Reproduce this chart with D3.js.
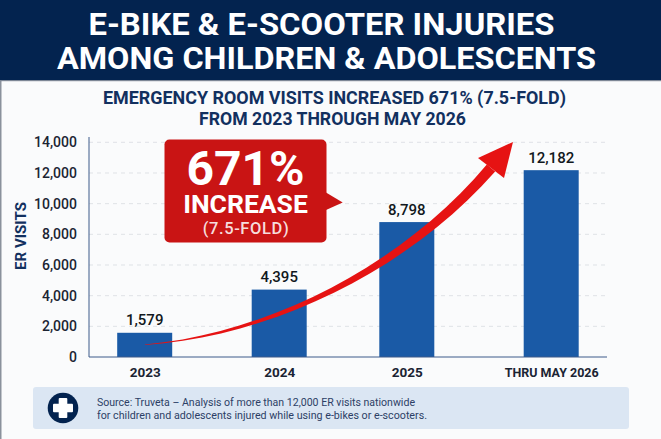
<!DOCTYPE html>
<html>
<head>
<meta charset="utf-8">
<script src="https://d3js.org/d3.v7.min.js"></script>
<style>
html,body{margin:0;padding:0;background:#fafbfc;}
svg{display:block;font-family:Roboto,"Liberation Sans",sans-serif;}
</style>
</head>
<body>
<script>
var categories = ["2023","2024","2025","THRU MAY 2026"];
var visits = [1579,4395,8798,12182];
var yTicks = [0,2000,4000,6000,8000,10000,12000,14000];
var titleLines = ["E-BIKE & E-SCOOTER INJURIES","AMONG CHILDREN & ADOLESCENTS"];
var subtitleLines = ["EMERGENCY ROOM VISITS INCREASED 671% (7.5-FOLD)","FROM 2023 THROUGH MAY 2026"];
var sourceLines = ["Source: Truveta – Analysis of more than 12,000 ER visits nationwide","for children and adolescents injured while using e-bikes or e-scooters."];

var navy = "#03234f", blue = "#1a5aa6", red = "#e61313";

var svg = d3.select("body").append("svg").attr("width",661).attr("height",439);

// page frame and header
svg.append("rect").attr("width",661).attr("height",439).attr("fill","#fafbfc");
svg.append("rect").attr("x",0).attr("y",0).attr("width",1.5).attr("height",439).attr("fill","#8a919c");
svg.append("rect").attr("width",661).attr("height",80).attr("fill",navy);
svg.append("rect").attr("y",80).attr("width",661).attr("height",1.2).attr("fill","#7d8796");

svg.selectAll("text.title").data(titleLines).enter().append("text")
	.attr("class","title")
	.attr("x",function(d,i){ return i==0 ? 88.5 : 57; })
	.attr("y",function(d,i){ return i==0 ? 35 : 68.5; })
	.attr("textLength",function(d,i){ return i==0 ? 466 : 539; })
	.attr("lengthAdjust","spacingAndGlyphs")
	.attr("font-size",31).attr("font-weight",700).attr("fill","#fff")
	.text(function(d){ return d; });

svg.selectAll("text.sub").data(subtitleLines).enter().append("text")
	.attr("class","sub")
	.attr("x",function(d,i){ return i==0 ? 103 : 199; })
	.attr("y",function(d,i){ return i==0 ? 104 : 125; })
	.attr("textLength",function(d,i){ return i==0 ? 463 : 267; })
	.attr("lengthAdjust","spacingAndGlyphs")
	.attr("font-size",17.5).attr("font-weight",700).attr("fill","#12305f")
	.text(function(d){ return d; });

// scales
var y = d3.scaleLinear().domain([0,14000]).range([357,142.3]);
var x = d3.scaleOrdinal().domain(categories).range([144.7,279.2,406.8,551.2]);
var barWidth = 55;

// grid
svg.append("g").selectAll("line").data(yTicks.slice(1)).enter().append("line")
	.attr("x1",89).attr("x2",607)
	.attr("y1",function(d){ return y(d); })
	.attr("y2",function(d){ return y(d); })
	.attr("stroke","#dfe2e6").attr("stroke-width",1).attr("stroke-dasharray","4 4");

// bars
svg.append("g").selectAll("rect").data(visits).enter().append("rect")
	.attr("x",function(d,i){ return x(categories[i])-barWidth/2; })
	.attr("y",function(d){ return y(d); })
	.attr("width",barWidth)
	.attr("height",function(d){ return y(0)-y(d); })
	.attr("fill",blue);

// axes
var yAxis = svg.append("g").attr("transform","translate(89,0)")
	.call(d3.axisLeft(y).tickValues(yTicks).tickFormat(d3.format(",")).tickSize(0).tickPadding(12));
yAxis.select(".domain").remove();
yAxis.selectAll("text").attr("font-size",14).attr("font-weight",500).attr("font-family","Roboto").attr("fill","#1b2433");

var xAxis = svg.append("g").attr("transform","translate(0,357)")
	.call(d3.axisBottom(x).tickSize(0).tickPadding(10));
xAxis.select(".domain").remove();
xAxis.selectAll("text").attr("font-size",13.5).attr("font-weight",700).attr("font-family","Roboto").attr("fill","#1b2433")
	.attr("textLength",function(d){ return d.length>4 ? 94 : null; })
	.attr("lengthAdjust","spacingAndGlyphs");

svg.append("line").attr("x1",89).attr("x2",89).attr("y1",137).attr("y2",357).attr("stroke","#3d5a8a").attr("stroke-width",1);
svg.append("line").attr("x1",89).attr("x2",607).attr("y1",357).attr("y2",357).attr("stroke","#3d5a8a").attr("stroke-width",1);

svg.append("text")
	.attr("transform","translate(26,236) rotate(-90)")
	.attr("text-anchor","middle")
	.attr("font-size",15).attr("font-weight",700).attr("fill","#12305f")
	.text("ER VISITS");

// value labels
svg.append("g").selectAll("text").data(visits).enter().append("text")
	.attr("x",function(d,i){ return x(categories[i]); })
	.attr("y",function(d){ return y(d)-7.5; })
	.attr("text-anchor","middle")
	.attr("font-size",15).attr("font-weight",500).attr("fill","#111820")
	.text(function(d){ return d3.format(",")(d); });

// growth arrow: ribbon that widens along a bezier
var p0 = [145,344.7], p1 = [270,335], p2 = [405,268], p3 = [491,168];
function bez(a,b,c,d,t){ var u = 1-t; return u*u*u*a+3*u*u*t*b+3*u*t*t*c+t*t*t*d; }
var upper = [], lower = [];
d3.range(0,21).forEach(function(k){
	var t = k/20, e = 0.01;
	var px = bez(p0[0],p1[0],p2[0],p3[0],t), py = bez(p0[1],p1[1],p2[1],p3[1],t);
	var dx = bez(p0[0],p1[0],p2[0],p3[0],t+e)-bez(p0[0],p1[0],p2[0],p3[0],t-e);
	var dy = bez(p0[1],p1[1],p2[1],p3[1],t+e)-bez(p0[1],p1[1],p2[1],p3[1],t-e);
	var l = Math.sqrt(dx*dx+dy*dy), w = (0.4+10.6*t)/2;
	upper.push([px+dy/l*w, py-dx/l*w]);
	lower.unshift([px-dy/l*w, py+dx/l*w]);
});
svg.append("path").attr("d",d3.line()(upper.concat(lower))+"Z").attr("fill",red);
svg.append("path").attr("d","M513,142L478,158L504,178Z").attr("fill",red);

// callout
svg.append("rect").attr("x",164.5).attr("y",139.5).attr("width",162).attr("height",103).attr("rx",5).attr("fill","#c91414");
svg.append("path").attr("d","M326,192.5L342.7,202.5L326,210Z").attr("fill","#c91414");
svg.append("text").attr("x",245.5).attr("y",185).attr("text-anchor","middle")
	.attr("font-size",48).attr("font-weight",700).attr("fill","#fff").text("671%");
svg.append("text").attr("x",245.5).attr("y",212.5).attr("text-anchor","middle")
	.attr("font-size",26.5).attr("font-weight",700).attr("fill","#fff").text("INCREASE");
svg.append("text").attr("x",246).attr("y",234).attr("text-anchor","middle")
	.attr("font-size",16.5).attr("font-weight",500).attr("letter-spacing",0.6).attr("fill","#f6dcdc").text("(7.5-FOLD)");

// source box
svg.append("rect").attr("x",33).attr("y",387).attr("width",596).attr("height",42).attr("rx",3).attr("fill","#dbe6f3");
svg.append("circle").attr("cx",63).attr("cy",408).attr("r",15.3).attr("fill",navy);
svg.append("rect").attr("x",58.7).attr("y",398).attr("width",8.6).attr("height",20).attr("rx",1).attr("fill","#fff");
svg.append("rect").attr("x",53).attr("y",403.7).attr("width",20).attr("height",8.6).attr("rx",1).attr("fill","#fff");
svg.selectAll("text.src").data(sourceLines).enter().append("text")
	.attr("class","src")
	.attr("x",97)
	.attr("y",function(d,i){ return i==0 ? 406 : 418.5; })
	.attr("textLength",function(d,i){ return i==0 ? 318 : 330; })
	.attr("lengthAdjust","spacingAndGlyphs")
	.attr("font-size",11).attr("fill","#2d3f66")
	.text(function(d){ return d; });
</script>
</body>
</html>
